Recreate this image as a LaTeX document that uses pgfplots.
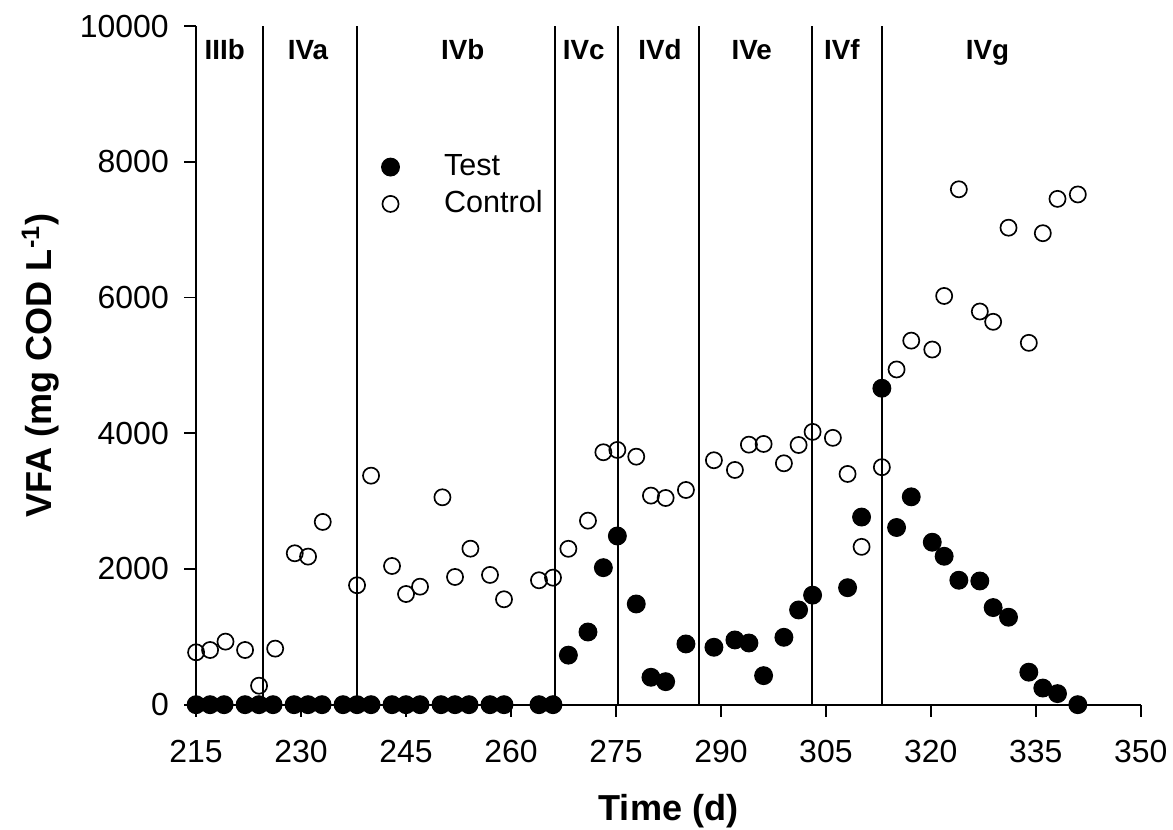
\documentclass[border=0pt]{standalone}
\usepackage{fontspec}
\setmainfont{Liberation Sans}
\usepackage{pgfplots}
\pgfplotsset{compat=1.18}

\pgfplotstableread{
day vfa
215 0
217 0
219 0
222 0
224 0
226 0
229 0
231 0
233 0
236 0
238 0
240 0
243 0
245 0
247 0
250 0
252 0
254 0
257 0
259 0
264 0
266 0
268.2 730
271 1071
273.2 2019
275.2 2486
277.9 1484
280 404
282.1 339
285 895
289 846
292 954
294 909
296.1 428
299 993
301.1 1396
303.1 1614
308.1 1724
310.1 2765
313 4663
315.1 2611
317.2 3063
320.2 2394
321.9 2187
324 1834
327 1823
328.9 1431
331.1 1289
334 479
336 245
338.1 163
341 0
}\testdata

\pgfplotstableread{
day vfa
215 772
217 806
219.2 929
222 806
224 280
226.3 826
229.1 2231
231 2182
233.1 2693
238 1760
240 3375
243 2044
245 1631
247 1739
250.2 3056
252 1882
254.2 2299
257 1912
259 1553
264 1833
266 1872
268.2 2297
271 2712
273.2 3720
275.2 3754
277.9 3655
280 3081
282.1 3046
285 3164
289 3602
292 3459
294 3832
296.1 3842
299 3557
301.1 3827
303.1 4020
306 3932
308.1 3400
310.1 2326
313 3500
315.1 4940
317.2 5365
320.2 5234
321.9 6023
324 7595
327 5794
328.9 5642
331.1 7029
334 5332
336 6948
338.1 7454
341 7519
}\controldata

\begin{document}
\begin{tikzpicture}
\path[use as bounding box] (-70.6pt,-45.1pt) rectangle (351.7pt,253.7pt);
\begin{axis}[
    scale only axis,
    width=340.1pt, height=244.3pt,
    xmin=215, xmax=350, ymin=0, ymax=10000,
    axis lines*=left,
    axis line style={line width=0.7pt},
    clip=false,
    xtick={215,230,...,350},
    ytick={0,2000,...,10000},
    scaled y ticks=false,
    tick align=outside,
    major tick length=4.3pt,
    tick style={line width=0.7pt, black},
    /pgf/number format/assume math mode=true,
    /pgf/number format/set thousands separator={},
    ticklabel style={font=\fontsize{11.5}{13}\selectfont},
    xticklabel style={yshift=-5pt},
    yticklabel style={xshift=-2pt},
    xlabel={\textbf{Time (d)}},
    ylabel={\textbf{VFA (mg COD L\textsuperscript{-1})}},
    label style={font=\fontsize{13}{15}\selectfont},
    xlabel style={at={(axis description cs:0.5,-0.157)}, anchor=center},
    ylabel style={at={(axis description cs:-0.165,0.5)}, anchor=center},
    legend style={draw=none, fill=none, at={(0.187,0.828)}, anchor=north west,
        font=\fontsize{11}{13}\selectfont, column sep=14.1pt},
    legend cell align=left,
]
\addplot[black, line width=0.6pt, forget plot] coordinates {(224.6,0) (224.6,10000)};
\addplot[black, line width=0.6pt, forget plot] coordinates {(238,0) (238,10000)};
\addplot[black, line width=0.6pt, forget plot] coordinates {(266.3,0) (266.3,10000)};
\addplot[black, line width=0.6pt, forget plot] coordinates {(275.3,0) (275.3,10000)};
\addplot[black, line width=0.6pt, forget plot] coordinates {(286.9,0) (286.9,10000)};
\addplot[black, line width=0.6pt, forget plot] coordinates {(303,0) (303,10000)};
\addplot[black, line width=0.6pt, forget plot] coordinates {(313,0) (313,10000)};

\addplot[only marks, mark=*, mark size=3.2pt, mark options={fill=black, draw=black}]
    table[x=day, y=vfa] {\testdata};
\addlegendentry{Test}
\addplot[only marks, mark=o, mark size=2.9pt, mark options={draw=black, fill=white, line width=0.6pt}]
    table[x=day, y=vfa] {\controldata};
\addlegendentry{Control}

\node[font=\bfseries\fontsize{10}{12}\selectfont, anchor=base] at (axis cs:219.1,9502) {IIIb};
\node[font=\bfseries\fontsize{10}{12}\selectfont, anchor=base] at (axis cs:231,9502) {IVa};
\node[font=\bfseries\fontsize{10}{12}\selectfont, anchor=base] at (axis cs:253.1,9502) {IVb};
\node[font=\bfseries\fontsize{10}{12}\selectfont, anchor=base] at (axis cs:270.4,9502) {IVc};
\node[font=\bfseries\fontsize{10}{12}\selectfont, anchor=base] at (axis cs:281.3,9502) {IVd};
\node[font=\bfseries\fontsize{10}{12}\selectfont, anchor=base] at (axis cs:294.4,9502) {IVe};
\node[font=\bfseries\fontsize{10}{12}\selectfont, anchor=base] at (axis cs:307.3,9502) {IVf};
\node[font=\bfseries\fontsize{10}{12}\selectfont, anchor=base] at (axis cs:328.1,9502) {IVg};
\end{axis}
\end{tikzpicture}
\end{document}
